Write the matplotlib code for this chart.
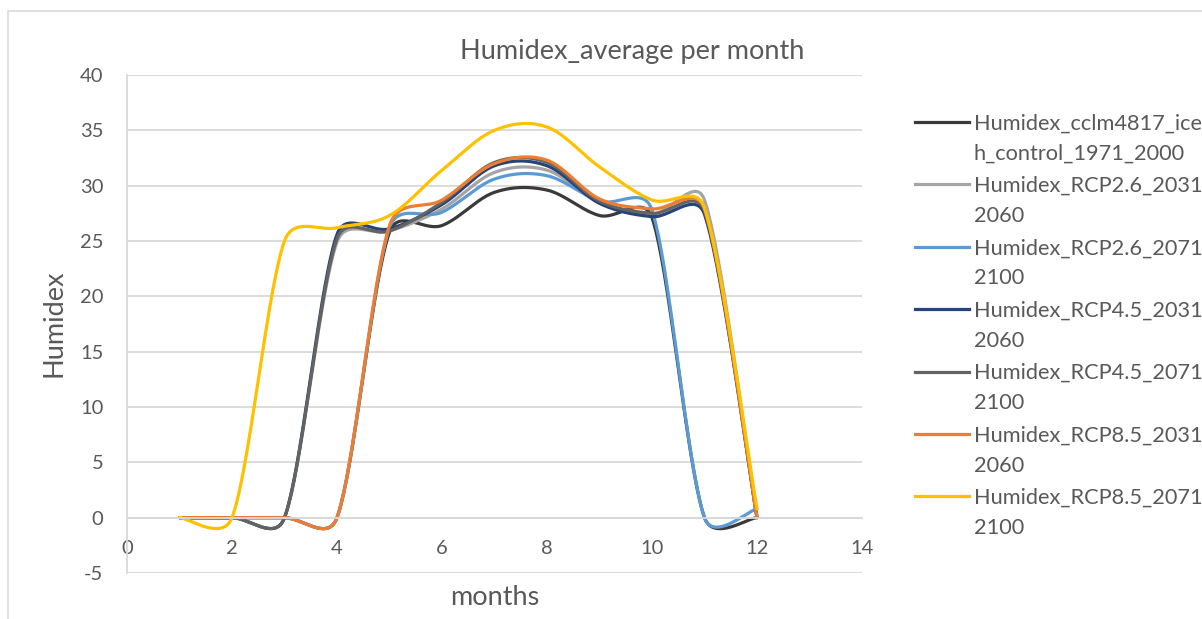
import numpy as np
import matplotlib
matplotlib.use('Agg')
import matplotlib.pyplot as plt
from matplotlib.lines import Line2D
from matplotlib.patches import Rectangle

plt.rcParams['font.family'] = ['Lato', 'DejaVu Sans']
plt.rcParams['axes.unicode_minus'] = False

# monthly humidex averages
months = [1, 2, 3, 4, 5, 6, 7, 8, 9, 10, 11, 12]
control = [0, 0, 0, 0, 25.8, 26.4, 29.4, 29.6, 27.3, 27.1, 0, 0]
rcp26_2031 = [0, 0, 0, 24.9, 25.9, 27.9, 31.2, 31.4, 28.5, 27.4, 28.7, 0]
rcp26_2071 = [0, 0, 0, 0, 26.2, 27.6, 30.6, 30.9, 28.6, 27.8, 0, 0.8]
rcp45_2031 = [0, 0, 0, 25.6, 26.1, 28.3, 31.8, 31.8, 28.4, 27.2, 27.4, 0]
rcp45_2071 = [0, 0, 0, 25.2, 25.9, 28.5, 32.1, 32.1, 28.6, 27.5, 27.7, 0]
rcp85_2031 = [0, 0, 0, 0, 26.4, 28.7, 32.0, 32.3, 28.8, 27.9, 27.9, 0]
rcp85_2071 = [0, 0, 25.0, 26.2, 27.3, 31.4, 35.0, 35.3, 31.7, 28.7, 28.0, 0.8]

seriesValues = [control, rcp26_2031, rcp26_2071, rcp45_2031, rcp45_2071, rcp85_2031, rcp85_2071]
seriesLabels = [
	['Humidex_cclm4817_ice', 'h_control_1971_2000'],
	['Humidex_RCP2.6_2031_', '2060'],
	['Humidex_RCP2.6_2071_', '2100'],
	['Humidex_RCP4.5_2031_', '2060'],
	['Humidex_RCP4.5_2071_', '2100'],
	['Humidex_RCP8.5_2031_', '2060'],
	['Humidex_RCP8.5_2071_', '2100'],
]
seriesColors = ['#3a3a3a', '#a5a5a5', '#5b9bd5', '#264478', '#636363', '#ed7d31', '#ffc000']

xTicks = [0, 2, 4, 6, 8, 10, 12, 14]
yTicks = [-5, 0, 5, 10, 15, 20, 25, 30, 35, 40]

W, H = 1202, 619
TEXT = '#595959'
GRID = '#d9d9d9'

def fx(px):
	return px / W

def fy(py):
	return 1 - py / H

# Excel style smoothed line: bezier segments built in screen space
def excelSmooth(ax, xs, ys, steps=40):
	pts = ax.transData.transform(np.column_stack([xs, ys]))
	n = len(pts)
	out = [pts[0]]
	t = np.linspace(0, 1, steps)[1:, None]
	for i in range(n - 1):
		p0 = pts[max(i - 1, 0)]
		p1 = pts[i]
		p2 = pts[i + 1]
		p3 = pts[min(i + 2, n - 1)]
		d12 = np.hypot(*(p2 - p1))
		d02 = np.hypot(*(p2 - p0))
		d13 = np.hypot(*(p3 - p1))
		f1 = 1 / 6 if d02 / 6 < d12 / 2 else d12 / (2 * d02)
		f2 = 1 / 6 if d13 / 6 < d12 / 2 else d12 / (2 * d13)
		b1 = p1 + (p2 - p0) * f1
		b2 = p2 - (p3 - p1) * f2
		seg = (1 - t) ** 3 * p1 + 3 * (1 - t) ** 2 * t * b1 + 3 * (1 - t) * t ** 2 * b2 + t ** 3 * p2
		out.extend(seg)
	return ax.transData.inverted().transform(np.array(out))

fig = plt.figure(figsize=(W / 100, H / 100), dpi=100)
ax = fig.add_axes([fx(127), fy(573), fx(862) - fx(127), fy(75) - fy(573)])
ax.set_xlim(0, 14)
ax.set_ylim(-5, 40)

# chart area border (only top and left visible)
fig.add_artist(Rectangle((fx(8), -0.2), 1.5, fy(11) + 0.2, transform=fig.transFigure,
	fill=False, edgecolor=GRID, linewidth=1.2))

ax.set_yticks(yTicks)
ax.set_xticks(xTicks)
ax.grid(axis='y', color=GRID, linewidth=1.3)
ax.set_axisbelow(True)
for side in ['top', 'right']:
	ax.spines[side].set_visible(False)
ax.spines['left'].set_color(GRID)
ax.spines['left'].set_linewidth(1.3)
ax.spines['bottom'].set_position(('data', 0))
ax.spines['bottom'].set_color(GRID)
ax.spines['bottom'].set_linewidth(1.3)
ax.tick_params(axis='y', length=0, pad=17, labelsize=14.5, labelcolor=TEXT)
ax.tick_params(axis='x', length=0, pad=16, labelsize=14.5, labelcolor=TEXT)

for vals, col in zip(seriesValues, seriesColors):
	curve = excelSmooth(ax, months, vals)
	ax.plot(curve[:, 0], curve[:, 1], color=col, linewidth=2.3, solid_capstyle='round', clip_on=False)

fig.text(fx(632.5), fy(59), 'Humidex_average per month', ha='center', va='baseline', fontsize=19.5, color=TEXT)
fig.text(fx(495), fy(605), 'months', ha='center', va='baseline', fontsize=19.5, color=TEXT)
fig.text(fx(54), fy(323), 'Humidex', ha='center', va='center', rotation=90, fontsize=19.5, color=TEXT)

# legend drawn by hand so the key sits on the first text line
for i, (lab, col) in enumerate(zip(seriesLabels, seriesColors)):
	base = 129.5 + 62.4 * i
	fig.add_artist(Line2D([fx(915), fx(969)], [fy(base - 7.5), fy(base - 7.5)],
		transform=fig.transFigure, color=col, linewidth=2.3))
	fig.text(fx(974), fy(base), lab[0], ha='left', va='baseline', fontsize=15.7, color=TEXT)
	fig.text(fx(974), fy(base + 30), lab[1], ha='left', va='baseline', fontsize=15.7, color=TEXT)

fig.savefig('out.png', dpi=100)
